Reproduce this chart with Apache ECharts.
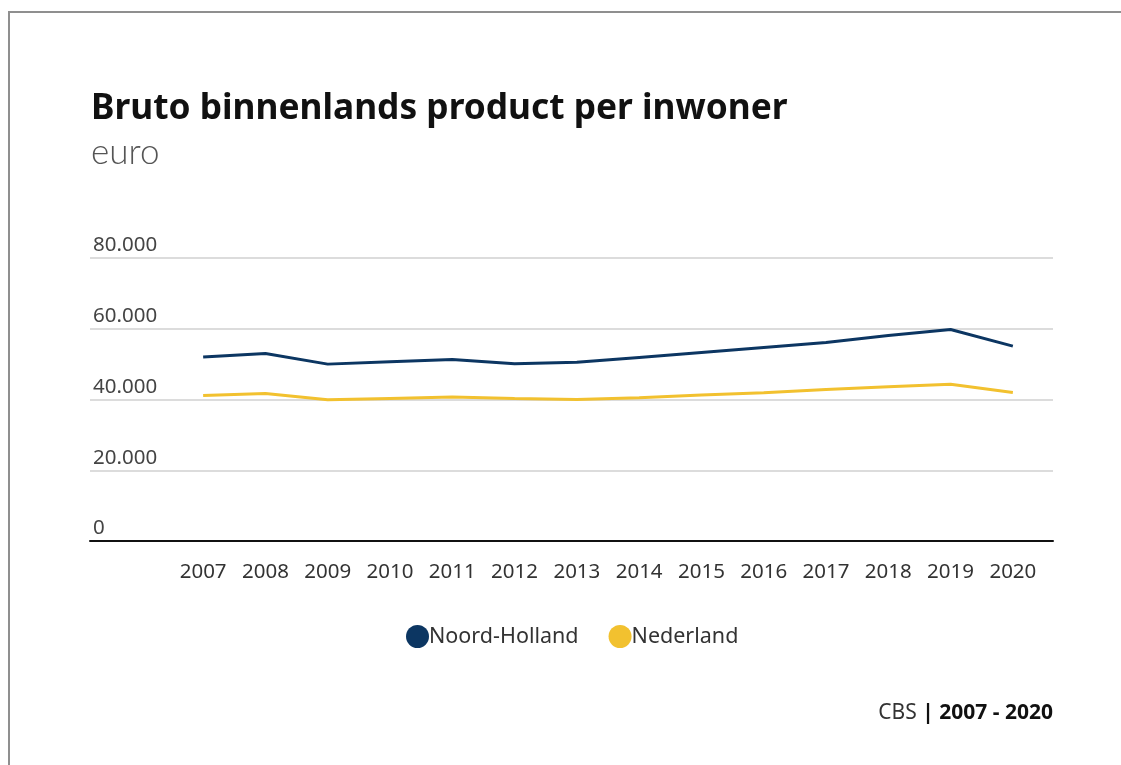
<!DOCTYPE html>
<html>
<head>
<meta charset="utf-8">
<script src="https://cdn.jsdelivr.net/npm/echarts@6/dist/echarts.min.js"></script>
<style>
  html, body { margin: 0; padding: 0; background: #fff; }
  #chart { width: 1121px; height: 765px; }
</style>
</head>
<body>
<div id="chart"></div>
<script>
// Bruto binnenlands product per inwoner (euro), 2007 - 2020
const years = ['2007', '2008', '2009', '2010', '2011', '2012', '2013',
               '2014', '2015', '2016', '2017', '2018', '2019', '2020'];
const noordHolland = [52000, 53000, 50000, 50700, 51300, 50100, 50500,
                      51900, 53300, 54700, 56100, 58100, 59800, 55100];
const nederland = [41100, 41700, 39900, 40300, 40700, 40300, 40000,
                   40500, 41300, 41900, 42800, 43600, 44300, 42000];
const yTicks = [0, 20000, 40000, 60000, 80000];

const FONT = '"Noto Sans", "Open Sans", sans-serif';
const LIGHT_FONT = 'Lato, "Noto Sans", sans-serif';
const NAVY = '#0c3662';
const YELLOW = '#f2c12f';

function nlFormat(v) {
  return String(v).replace(/\B(?=(\d{3})+(?!\d))/g, '.');
}

const chart = echarts.init(document.getElementById('chart'), null, { renderer: 'canvas' });

chart.setOption({
  backgroundColor: '#fff',
  animation: false,
  textStyle: { fontFamily: FONT },
  grid: [
    // full-width grid carrying the value gridlines and the baseline
    { left: 90, right: 68, top: 258, bottom: 224 },
    // inner grid holding the yearly categories
    { left: 172, right: 77, top: 258, bottom: 224 }
  ],
  xAxis: [
    {
      gridIndex: 0, type: 'value', min: 0, max: 1,
      axisLine: { show: true, lineStyle: { color: '#111', width: 2 } },
      axisTick: { show: false }, axisLabel: { show: false }, splitLine: { show: false }
    },
    {
      gridIndex: 1, type: 'category', data: years, boundaryGap: true,
      axisLine: { show: false }, axisTick: { show: false },
      axisLabel: { color: '#333', fontSize: 20.5, margin: 21, fontFamily: FONT }
    }
  ],
  yAxis: [
    {
      gridIndex: 0, type: 'value',
      min: yTicks[0], max: yTicks[yTicks.length - 1], interval: yTicks[1] - yTicks[0],
      axisLine: { show: false }, axisTick: { show: false },
      axisLabel: {
        inside: true, margin: 3, verticalAlign: 'bottom', padding: [0, 0, 2, 0],
        color: '#444', fontSize: 20.5, fontFamily: FONT,
        formatter: v => nlFormat(v)
      },
      splitLine: { show: true, lineStyle: { color: '#dcdcdc', width: 2 } }
    },
    {
      gridIndex: 1, type: 'value',
      min: yTicks[0], max: yTicks[yTicks.length - 1],
      show: false, splitLine: { show: false }
    }
  ],
  legend: {
    left: 401, top: 620,
    icon: 'circle', itemWidth: 23, itemHeight: 23, itemGap: 30,
    textStyle: { color: '#333', fontSize: 21.5, fontFamily: FONT, padding: [0, 0, 0, -5] },
    data: ['Noord-Holland', 'Nederland']
  },
  series: [
    {
      name: 'Noord-Holland', type: 'line', xAxisIndex: 1, yAxisIndex: 1,
      data: noordHolland, symbol: 'none', color: NAVY,
      lineStyle: { color: NAVY, width: 3 }
    },
    {
      name: 'Nederland', type: 'line', xAxisIndex: 1, yAxisIndex: 1,
      data: nederland, symbol: 'none', color: YELLOW,
      lineStyle: { color: YELLOW, width: 3 }
    }
  ],
  graphic: [
    {
      type: 'rect', silent: true,
      shape: { x: 9, y: 12, width: 1300, height: 1000 },
      style: { fill: 'none', stroke: '#8f8f8f', lineWidth: 2 }
    },
    {
      type: 'text', left: 91, top: 91,
      style: {
        text: 'Bruto binnenlands product per inwoner',
        fontFamily: FONT, fontWeight: 'bold', fontSize: 35.3, fill: '#111'
      }
    },
    {
      type: 'text', left: 91, top: 135,
      style: {
        text: 'euro',
        fontFamily: LIGHT_FONT, fontWeight: 300, fontSize: 35, fill: '#555'
      }
    },
    {
      type: 'text', right: 68, top: 703,
      style: {
        text: '{n|CBS }{b|| 2007 - 2020}',
        fontFamily: FONT, fontSize: 21, fill: '#222',
        rich: {
          n: { fontFamily: FONT, fontSize: 21, fill: '#333' },
          b: { fontFamily: FONT, fontSize: 21, fontWeight: 'bold', fill: '#111' }
        }
      }
    }
  ]
});
</script>
</body>
</html>
